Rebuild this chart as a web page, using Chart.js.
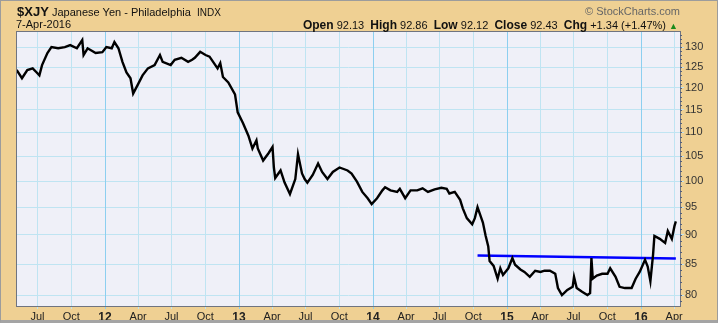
<!DOCTYPE html>
<html>
<head>
<meta charset="utf-8">
<script src="https://cdn.jsdelivr.net/npm/chart.js@4.4.1/dist/chart.umd.min.js"></script>
<style>
  html, body { margin: 0; padding: 0; background: #efd093; }
  #wrap { position: relative; width: 718px; height: 323px; font-family: "Liberation Sans", Arial, sans-serif; color: #111; }
  #frame { position: absolute; left: 0; top: 0; width: 718px; height: 323px; box-sizing: border-box;
           border: 1px solid #9c9c9c; border-bottom: 3px solid #a4a4a4; pointer-events: none; }
  canvas { position: absolute; left: 0; top: 0; }
  .t { position: absolute; white-space: nowrap; }
  #sym { left: 17px; top: 4px; font-size: 13px; font-weight: bold; }
  #name { left: 52px; top: 6px; font-size: 11px; }
  #exch { left: 197px; top: 7px; font-size: 10px; }
  #date { left: 16px; top: 18px; font-size: 11px; }
  #copy { right: 38px; top: 5px; font-size: 11px; color: #666; }
  #ohlc { right: 40px; top: 18px; font-size: 11px; }
  #ohlc b { font-size: 12px; }
  #ohlc .up { color: #1a8a1a; font-size: 9px; }
</style>
</head>
<body>
<div id="wrap">
  <canvas id="yen" width="718" height="323"></canvas>
  <div class="t" id="sym">$XJY</div>
  <div class="t" id="name">Japanese Yen - Philadelphia</div>
  <div class="t" id="exch">INDX</div>
  <div class="t" id="date">7-Apr-2016</div>
  <div class="t" id="copy">&copy; StockCharts.com</div>
  <div class="t" id="ohlc"><b>Open</b> 92.13&nbsp; <b>High</b> 92.86&nbsp; <b>Low</b> 92.12&nbsp; <b>Close</b> 92.43&nbsp; <b>Chg</b> +1.34 (+1.47%) <span class="up">&#9650;</span></div>
  <div id="frame"></div>
</div>
<script>
// dates as decimal years, closes
var dates = [2011.34, 2011.38, 2011.42, 2011.46, 2011.49, 2011.51, 2011.53, 2011.57, 2011.60, 2011.65,
  2011.70, 2011.74, 2011.79, 2011.83, 2011.84, 2011.87, 2011.93, 2011.98, 2012.01, 2012.05,
  2012.07, 2012.10, 2012.13, 2012.16, 2012.19, 2012.21, 2012.24, 2012.28, 2012.32, 2012.37,
  2012.41, 2012.43, 2012.49, 2012.52, 2012.57, 2012.62, 2012.65, 2012.67, 2012.71, 2012.75,
  2012.78, 2012.84, 2012.86, 2012.88, 2012.92, 2012.97, 2012.99, 2013.03, 2013.07, 2013.10,
  2013.13, 2013.14, 2013.18, 2013.22, 2013.25, 2013.26, 2013.27, 2013.31, 2013.34, 2013.38,
  2013.42, 2013.44, 2013.47, 2013.49, 2013.51, 2013.55, 2013.59, 2013.62, 2013.66, 2013.70,
  2013.75, 2013.81, 2013.84, 2013.88, 2013.92, 2013.96, 2013.99, 2014.03, 2014.07, 2014.09,
  2014.13, 2014.18, 2014.20, 2014.24, 2014.28, 2014.33, 2014.37, 2014.41, 2014.46, 2014.51,
  2014.55, 2014.57, 2014.61, 2014.65, 2014.67, 2014.70, 2014.74, 2014.76, 2014.78, 2014.80,
  2014.82, 2014.84, 2014.86, 2014.87, 2014.90, 2014.93, 2014.95, 2014.97, 2015.01, 2015.04,
  2015.06, 2015.10, 2015.13, 2015.17, 2015.21, 2015.25, 2015.28, 2015.32, 2015.36, 2015.38,
  2015.41, 2015.45, 2015.49, 2015.50, 2015.52, 2015.56, 2015.60, 2015.62, 2015.63, 2015.64,
  2015.67, 2015.71, 2015.75, 2015.77, 2015.81, 2015.84, 2015.88, 2015.93, 2015.96, 2015.99,
  2016.03, 2016.05, 2016.07, 2016.09, 2016.10, 2016.14, 2016.18, 2016.20, 2016.23, 2016.25,
  2016.26];
var closes = [124.3, 122.3, 124.3, 124.7, 123.7, 123.0, 125.5, 128.5, 130.0, 129.7,
  130.0, 130.5, 129.7, 131.8, 128.0, 129.7, 128.5, 128.7, 130.0, 129.7,
  131.3, 129.7, 126.3, 123.7, 122.3, 118.7, 120.5, 123.0, 124.7, 125.5,
  128.0, 126.3, 125.5, 126.8, 127.3, 126.3, 126.8, 127.3, 128.8, 128.0,
  127.6, 124.7, 126.0, 122.6, 121.3, 118.5, 114.4, 112.0, 109.3, 106.6,
  108.3, 106.6, 104.1, 105.6, 106.9, 102.7, 100.6, 102.1, 99.7, 97.5,
  100.4, 105.4, 101.5, 100.4, 99.7, 101.2, 103.5, 101.8, 100.4, 101.8,
  102.7, 102.1, 101.5, 99.9, 97.9, 96.7, 95.6, 96.7, 98.2, 98.8,
  98.2, 97.9, 98.5, 96.7, 98.2, 98.2, 98.6, 97.9, 98.4, 98.7,
  98.5, 97.6, 97.9, 96.4, 94.8, 93.0, 91.9, 93.0, 95.0, 93.6,
  92.2, 89.9, 88.0, 85.5, 84.7, 82.6, 84.3, 83.2, 84.3, 86.0,
  84.9, 84.1, 83.7, 82.9, 83.9, 83.7, 83.9, 83.9, 83.4, 81.1,
  80.0, 80.8, 81.3, 82.9, 81.1, 80.5, 80.0, 80.3, 86.0, 82.6,
  83.1, 83.4, 83.4, 84.3, 82.9, 81.3, 81.1, 81.1, 82.6, 83.7,
  85.7, 84.6, 82.2, 86.6, 89.8, 89.3, 88.6, 90.7, 89.3, 91.6,
  92.4];

// blue trend line (start, end)
var trendDates = [2014.78, 2016.26];
var trendValues = [86.45, 85.95];

var xTickValues = [2011.496, 2011.748, 2012, 2012.247, 2012.496, 2012.748, 2013, 2013.247, 2013.496, 2013.748,
  2014, 2014.247, 2014.496, 2014.748, 2015, 2015.247, 2015.496, 2015.748, 2016, 2016.247];
var xTickLabels = ['Jul', 'Oct', '12', 'Apr', 'Jul', 'Oct', '13', 'Apr', 'Jul', 'Oct',
  '14', 'Apr', 'Jul', 'Oct', '15', 'Apr', 'Jul', 'Oct', '16', 'Apr'];
var yTickValues = [80, 85, 90, 95, 100, 105, 110, 115, 120, 125, 130];

var priceData = dates.map(function (d, i) { return { x: d, y: closes[i] }; });
var trendData = trendDates.map(function (d, i) { return { x: d, y: trendValues[i] }; });

function isYear(i) { return /^\d+$/.test(xTickLabels[i]); }

// plot background, year lines, frame around chart area, small minor ticks on the price axis
var plotBox = {
  id: 'plotBox',
  beforeDraw: function (chart) {
    var a = chart.chartArea, c = chart.ctx;
    c.save();
    c.fillStyle = '#eff0f8';
    c.fillRect(a.left, a.top, a.right - a.left, a.bottom - a.top);
    c.restore();
  },
  beforeDatasetsDraw: function (chart) {
    var a = chart.chartArea, c = chart.ctx, x = chart.scales.x;
    c.save();
    c.strokeStyle = '#8ccff0';
    c.lineWidth = 1;
    c.beginPath();
    xTickValues.forEach(function (v, i) {
      if (!isYear(i)) return;
      var px = Math.round(x.getPixelForValue(v)) + 0.5;
      c.moveTo(px, a.top);
      c.lineTo(px, a.bottom + 3);
    });
    c.stroke();
    c.restore();
  },
  afterDraw: function (chart) {
    var a = chart.chartArea, c = chart.ctx, y = chart.scales.y;
    c.save();
    c.strokeStyle = '#6f7480';
    c.lineWidth = 1;
    c.strokeRect(a.left - 0.5, a.top - 0.5, a.right - a.left + 1, a.bottom - a.top + 1);
    c.strokeStyle = '#55607a';
    c.beginPath();
    for (var v = 79; v <= 133; v++) {
      var py = Math.round(y.getPixelForValue(v)) + 0.5;
      c.moveTo(a.right, py);
      c.lineTo(a.right + 2, py);
    }
    c.stroke();
    c.restore();
  }
};

new Chart(document.getElementById('yen'), {
  type: 'line',
  data: {
    datasets: [{
      label: '$XJY',
      data: priceData,
      borderColor: '#000',
      borderWidth: 2.4,
      pointRadius: 0,
      tension: 0
    }, {
      label: 'trend',
      data: trendData,
      borderColor: '#0000ff',
      borderWidth: 2.5,
      pointRadius: 0
    }]
  },
  options: {
    responsive: false,
    animation: false,
    layout: { padding: { left: 17, top: 32, right: 0, bottom: 0 } },
    plugins: { legend: { display: false }, tooltip: { enabled: false } },
    scales: {
      x: {
        type: 'linear',
        min: 2011.343,
        max: 2016.291,
        afterBuildTicks: function (scale) {
          scale.ticks = xTickValues.map(function (v) { return { value: v }; });
        },
        afterFit: function (scale) { scale.height = 17; },
        ticks: {
          autoSkip: false,
          maxRotation: 0,
          padding: 1,
          color: '#222',
          font: function (ctx) {
            return isYear(ctx.index) ? { family: 'Liberation Sans', size: 12, weight: 'bold' }
                                     : { family: 'Liberation Sans', size: 11 };
          },
          callback: function (value, index) { return xTickLabels[index]; }
        },
        grid: { color: '#bfe4f2', tickLength: 3 },
        border: { display: false }
      },
      y: {
        type: 'logarithmic',
        position: 'right',
        min: 78.3,
        max: 133.9,
        afterBuildTicks: function (scale) {
          scale.ticks = yTickValues.map(function (v) { return { value: v }; });
        },
        afterFit: function (scale) { scale.width = 38; },
        ticks: {
          padding: 1,
          color: '#333',
          font: { family: 'Liberation Sans', size: 11 },
          callback: function (value) { return String(value); }
        },
        grid: { color: '#bfe4f2', tickLength: 4 },
        border: { display: false }
      }
    }
  },
  plugins: [plotBox]
});
</script>
</body>
</html>
